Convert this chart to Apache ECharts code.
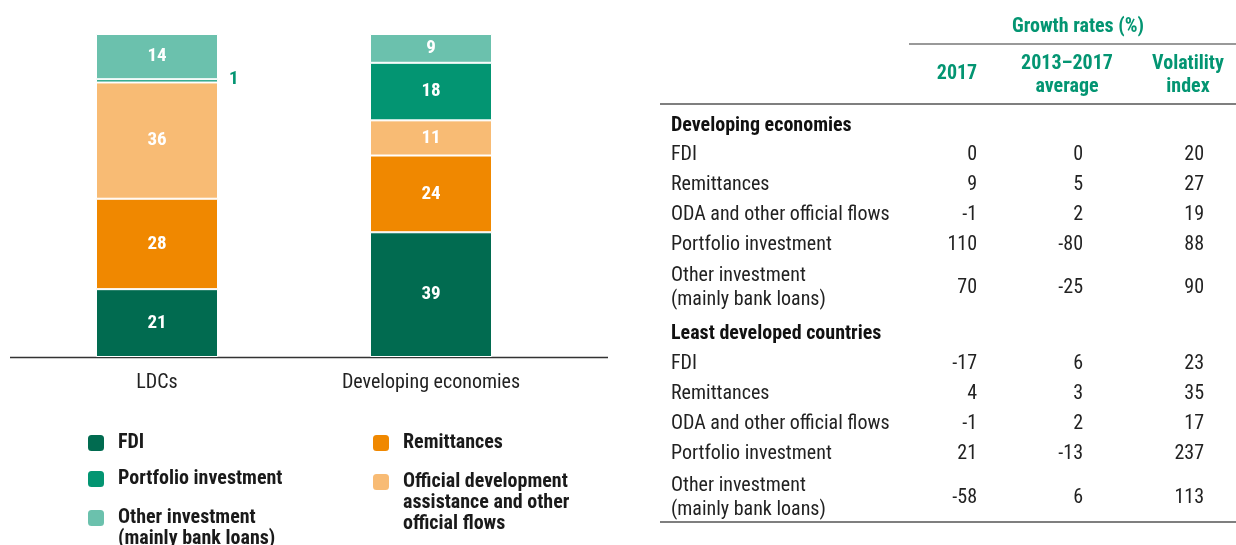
<!DOCTYPE html>
<html>
<head>
<meta charset="utf-8">
<script src="https://cdn.jsdelivr.net/npm/echarts@6/dist/echarts.min.js"></script>
<style>
  html, body { margin: 0; padding: 0; background: #fff; }
  #chart { width: 1236px; height: 545px; }
</style>
</head>
<body>
<div id="chart"></div>
<script>
// bar chart data (shares, %)
var categories = ['LDCs', 'Developing economies'];
var fdi = [21, 39];
var remittances = [28, 24];
var oda = [36, 11];
var portfolio = [1, 18];
var otherInvestment = [14, 9];

// table data
var tableTitle = 'Growth rates (%)';
var tableColumns = ['2017', '2013–2017\naverage', 'Volatility\nindex'];
var groupNames = ['Developing economies', 'Least developed countries'];
var flowLabels = ['FDI', 'Remittances', 'ODA and other official flows', 'Portfolio investment', 'Other investment\n(mainly bank loans)'];
var devGrowth2017 = [0, 9, -1, 110, 70];
var devAverage = [0, 5, 2, -80, -25];
var devVolatility = [20, 27, 19, 88, 90];
var ldcGrowth2017 = [-17, 4, -1, 21, -58];
var ldcAverage = [6, 3, 2, -13, 6];
var ldcVolatility = [23, 35, 17, 237, 113];

var FONT = "'Liberation Sans Narrow', 'Arial Narrow', 'Roboto Condensed', 'DejaVu Sans Condensed', sans-serif";
var GREEN = '#039572';

var seriesDefs = [
    {name: 'FDI', data: fdi, color: '#016b50', legend: 'FDI'},
    {name: 'Remittances', data: remittances, color: '#f08800', legend: 'Remittances'},
    {name: 'ODA', data: oda, color: '#f8bb74', legend: 'Official development\nassistance and other\nofficial flows'},
    {name: 'Portfolio investment', data: portfolio, color: '#039572', legend: 'Portfolio investment'},
    {name: 'Other investment', data: otherInvestment, color: '#6bc1ad', legend: 'Other investment\n(mainly bank loans)'}
];

// totals per category, bars are drawn as 100% stacks
var totals = categories.map(function (c, i) {
    var t = 0;
    seriesDefs.forEach(function (s) { t += s.data[i]; });
    return t;
});

var series = seriesDefs.map(function (s) {
    return {
        name: s.name,
        type: 'bar',
        stack: 'share',
        barWidth: 122,
        itemStyle: {color: s.color, borderColor: '#fff', borderWidth: 1},
        data: s.data.map(function (v, i) {
            var item = {value: v / totals[i] * 100, raw: v};
            if (v < 3) {
                item.label = {position: 'right', distance: 11, color: GREEN, offset: [0, -2]};
            }
            return item;
        }),
        label: {
            show: true,
            position: 'inside',
            color: '#fff',
            fontFamily: FONT,
            fontWeight: 'bold',
            fontSize: 19,
            formatter: function (p) { return p.data.raw; }
        }
    };
});

var legendLabels = {};
seriesDefs.forEach(function (s) { legendLabels[s.name] = s.legend; });

function makeLegend(name, left, top) {
    var lines = legendLabels[name].split('\n').length;
    var pre = '';
    for (var k = 1; k < lines; k++) pre += '\n';
    return {
        data: [name],
        left: left,
        top: top,
        padding: 0,
        selectedMode: false,
        icon: 'roundRect',
        itemWidth: 18,
        itemHeight: 18,
        formatter: function (n) { return pre + legendLabels[n]; },
        textStyle: {
            fontFamily: FONT,
            fontWeight: 'bold',
            fontSize: 20,
            lineHeight: 21,
            color: '#1a1a1a',
            padding: [3, 0, 0, 8]
        }
    };
}

var legends = [
    makeLegend('FDI', 86, 431),
    makeLegend('Portfolio investment', 86, 467),
    makeLegend('Other investment', 86, 485),
    makeLegend('Remittances', 371, 431),
    makeLegend('ODA', 371, 428)
];

// table drawn as graphic texts
var graphics = [];
function txt(x, y, text, opts) {
    opts = opts || {};
    graphics.push({
        type: 'text',
        x: x,
        y: y,
        silent: true,
        style: {
            text: String(text),
            fill: opts.color || '#222',
            font: (opts.bold ? 'bold ' : '') + (opts.size || 20) + 'px ' + FONT,
            align: opts.align || 'left',
            verticalAlign: 'middle',
            lineHeight: opts.lineHeight || 24
        }
    });
}
function hline(x1, x2, y, color, w) {
    graphics.push({
        type: 'line',
        silent: true,
        shape: {x1: x1, y1: y, x2: x2, y2: y},
        style: {stroke: color, lineWidth: w}
    });
}

// baseline under the bars
hline(10, 608, 357.5, '#333', 1.5);

var colRight = [977, 1083, 1204];
var colCenter = [957, 1067, 1188];
txt(1078, 27, tableTitle, {bold: true, color: GREEN, align: 'center'});
hline(909, 1236, 44, '#777', 1.5);
tableColumns.forEach(function (c, i) {
    txt(colCenter[i], c.indexOf('\n') > -1 ? 75 : 74, c, {bold: true, color: GREEN, align: 'center', lineHeight: 23});
});
hline(660, 1236, 104, '#555', 1.5);

var groups = [
    {y: 126, rows: [155, 185, 215, 245, 288], cols: [devGrowth2017, devAverage, devVolatility]},
    {y: 334, rows: [364, 394, 424, 454, 498], cols: [ldcGrowth2017, ldcAverage, ldcVolatility]}
];
groups.forEach(function (g, gi) {
    txt(671, g.y, groupNames[gi], {bold: true, color: '#111'});
    flowLabels.forEach(function (lab, ri) {
        txt(671, g.rows[ri], lab, {});
        g.cols.forEach(function (col, ci) {
            txt(colRight[ci], g.rows[ri], col[ri], {align: 'right'});
        });
    });
});
hline(660, 1236, 522, '#555', 1.5);

var myChart = echarts.init(document.getElementById('chart'));
var option = {
    animation: false,
    backgroundColor: '#fff',
    grid: {left: 20, width: 548, top: 34, bottom: 188, containLabel: false},
    xAxis: {
        type: 'category',
        data: categories,
        axisLine: {show: false},
        axisTick: {show: false},
        axisLabel: {
            margin: 16,
            fontFamily: FONT,
            fontSize: 20,
            color: '#222'
        }
    },
    yAxis: {type: 'value', min: 0, max: 100, show: false, splitLine: {show: false}},
    legend: legends,
    series: series,
    graphic: graphics
};
myChart.setOption(option);
</script>
</body>
</html>
